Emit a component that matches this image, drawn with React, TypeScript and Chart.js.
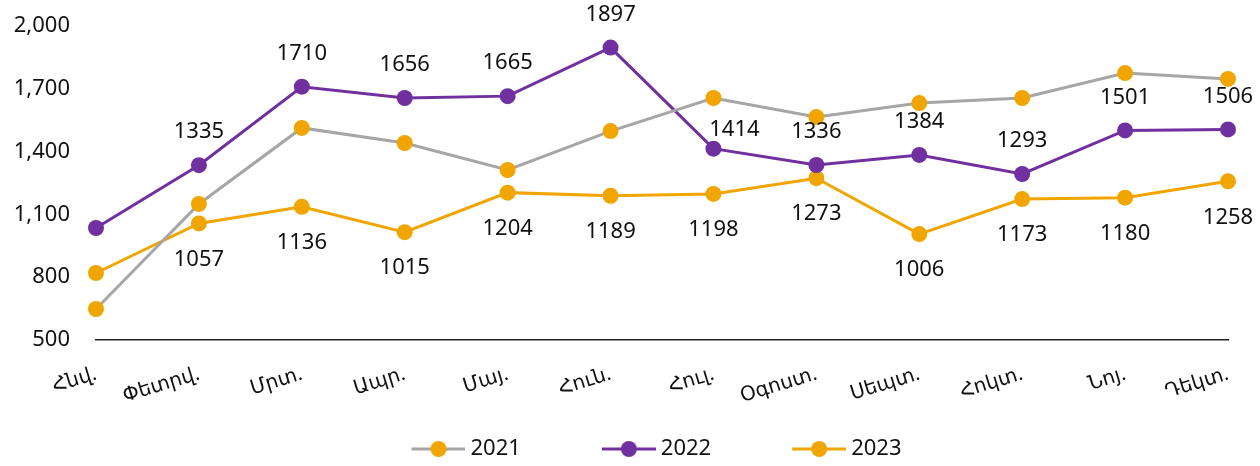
import { useEffect, useRef } from 'react';
import { Chart, registerables } from 'chart.js';

Chart.register(...registerables);

const months = ['Հնվ.', 'Փետրվ.', 'Մրտ.', 'Ապր.', 'Մայ.', 'Հուն.', 'Հուլ.', 'Օգոստ.', 'Սեպտ.', 'Հոկտ.', 'Նոյ.', 'Դեկտ.'];
const values2021 = [648, 1150, 1513, 1441, 1312, 1498, 1656, 1565, 1632, 1656, 1775, 1747];
const values2022 = [1035, 1335, 1710, 1656, 1665, 1897, 1414, 1336, 1384, 1293, 1501, 1506];
const values2023 = [820, 1057, 1136, 1015, 1204, 1189, 1198, 1273, 1006, 1173, 1180, 1258];
const seriesNames = ['2021', '2022', '2023'];
const yMin = 500;
const yMax = 2000;
const yStep = 300;

const PURPLE = '#7030A0';
const ORANGE = '#F0A500';
const GRAY = '#A6A6A6';
const FONT = '"Noto Sans", "DejaVu Sans", sans-serif';

function makeLegendIcon(lineColor: string, dotColor: string, boxW: number) {
  const c = document.createElement('canvas');
  const w = boxW + 12;
  c.width = w;
  c.height = 18;
  const g = c.getContext('2d')!;
  g.strokeStyle = lineColor;
  g.lineWidth = 3;
  g.beginPath();
  g.moveTo(w - 54, 9);
  g.lineTo(w, 9);
  g.stroke();
  g.fillStyle = dotColor;
  g.beginPath();
  g.arc(w - 27, 9, 8, 0, Math.PI * 2);
  g.fill();
  return c;
}

const labelPlugin = {
  id: 'valueLabels',
  afterDatasetsDraw(chart: any) {
    const ctx = chart.ctx;
    ctx.save();
    ctx.font = `22px ${FONT}`;
    ctx.fillStyle = '#111111';
    ctx.textAlign = 'center';
    ctx.textBaseline = 'middle';
    [1, 2].forEach((di) => {
      const meta = chart.getDatasetMeta(di);
      const data = chart.data.datasets[di].data as number[];
      meta.data.forEach((pt: any, i: number) => {
        if (i === 0) return;
        let x = pt.x;
        let y = di === 1 ? pt.y - 33 : pt.y + 36;
        if (di === 1 && i === 6) {
          x += 21;
          y = pt.y - 19;
        }
        ctx.fillText(String(data[i]), x, y);
      });
    });
    ctx.restore();
  },
};

export default function App() {
  const ref = useRef<HTMLCanvasElement>(null);
  useEffect(() => {
    document.body.style.margin = '0';
    const boxW = 119;
    const icons = [
      makeLegendIcon(GRAY, ORANGE, boxW),
      makeLegendIcon(PURPLE, PURPLE, boxW),
      makeLegendIcon(ORANGE, ORANGE, boxW),
    ];
    const chart = new Chart(ref.current!, {
      type: 'line',
      data: {
        labels: months,
        datasets: [
          { label: seriesNames[0], data: values2021, borderColor: GRAY, backgroundColor: ORANGE, pointBackgroundColor: ORANGE, pointBorderWidth: 0, pointRadius: 8, borderWidth: 3, tension: 0 },
          { label: seriesNames[1], data: values2022, borderColor: PURPLE, backgroundColor: PURPLE, pointBackgroundColor: PURPLE, pointBorderWidth: 0, pointRadius: 8, borderWidth: 3, tension: 0 },
          { label: seriesNames[2], data: values2023, borderColor: ORANGE, backgroundColor: ORANGE, pointBackgroundColor: ORANGE, pointBorderWidth: 0, pointRadius: 8, borderWidth: 3, tension: 0 },
        ],
      },
      options: {
        animation: false,
        responsive: false,
        maintainAspectRatio: false,
        layout: { padding: { top: 26, right: 32, left: 14, bottom: -4 } },
        plugins: {
          tooltip: { enabled: false },
          legend: {
            position: 'bottom',
            labels: {
              usePointStyle: true,
              pointStyleWidth: boxW,
              padding: 10,
              color: '#111111',
              font: { size: 22, family: FONT },
              generateLabels: () =>
                seriesNames.map((name, i) => ({
                  text: name,
                  pointStyle: icons[i] as any,
                  fillStyle: 'transparent',
                  strokeStyle: 'transparent',
                  lineWidth: 0,
                  hidden: false,
                  datasetIndex: i,
                  fontColor: '#111111',
                })),
            },
          },
        },
        scales: {
          x: {
            grid: { display: false, drawTicks: false },
            border: { display: true, color: '#222222', width: 1.5 },
            offset: false,
            ticks: {
              autoSkip: false,
              minRotation: 17,
              maxRotation: 17,
              padding: 22,
              color: '#111111',
              font: { size: 20, family: FONT },
            },
            afterFit: (s: any) => {
              s.height = 88;
            },
          },
          y: {
            min: yMin,
            max: yMax,
            grid: { display: false, drawTicks: true, tickLength: 26 },
            border: { display: false },
            ticks: {
              stepSize: yStep,
              padding: 0,
              color: '#111111',
              font: { size: 22, family: FONT },
            },
            afterFit: (s: any) => {
              s.width = 82;
            },
          },
        },
      },
      plugins: [labelPlugin],
    });
    return () => chart.destroy();
  }, []);
  return <canvas ref={ref} width={1260} height={466} style={{ display: 'block' }} />;
}
